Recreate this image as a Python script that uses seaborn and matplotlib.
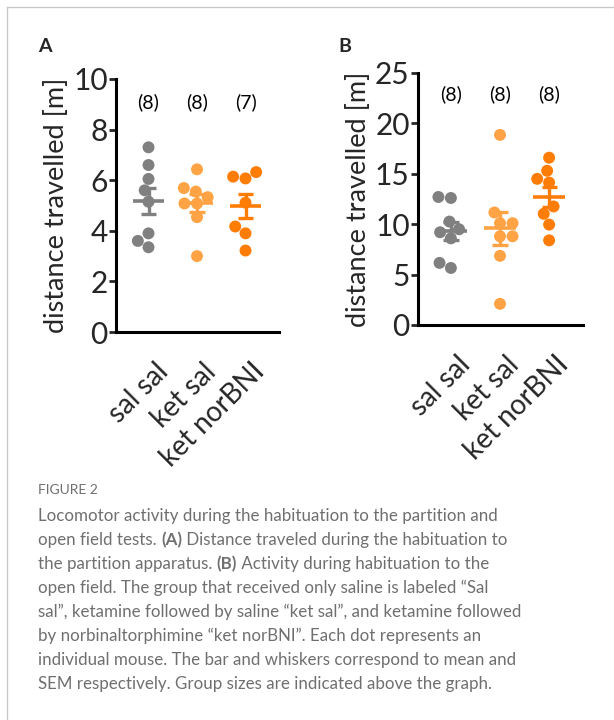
import numpy as np
import pandas as pd
import matplotlib
matplotlib.use("Agg")
import matplotlib.pyplot as plt
import matplotlib.transforms as mtransforms
import seaborn as sns
from matplotlib.lines import Line2D

# groups and colours
groups = ["sal sal", "ket sal", "ket norBNI"]
colors = ["#808080", "#FFA345", "#FF7D05"]

# panel A - habituation to the partition (m)
a_sal_sal = [7.3, 6.6, 6.05, 5.6, 5.15, 3.9, 3.35, 3.6]
a_ket_sal = [6.43, 5.69, 5.55, 5.33, 5.08, 5.08, 4.54, 3.0]
a_ket_nor = [6.14, 6.32, 6.07, 5.11, 4.17, 3.9, 3.22]

# panel B - open field (m)
b_sal_sal = [12.6, 12.7, 10.26, 9.5, 9.2, 8.6, 5.66, 6.16]
b_ket_sal = [18.86, 11.16, 10.1, 10.1, 8.8, 8.8, 6.86, 2.1]
b_ket_nor = [16.6, 15.3, 14.13, 14.5, 11.03, 11.76, 9.96, 8.4]


def make_df(*series):
    rows = []
    for g, vals in zip(groups, series):
        for v in vals:
            rows.append({"group": g, "dist": v})
    return pd.DataFrame(rows)


dfA = make_df(a_sal_sal, a_ket_sal, a_ket_nor)
dfB = make_df(b_sal_sal, b_ket_sal, b_ket_nor)

sns.set_theme(style="ticks")
plt.rcParams["font.family"] = ["Lato", "DejaVu Sans"]

W, H = 614, 720
fig = plt.figure(figsize=(W / 100, H / 100), dpi=100)

axA = fig.add_axes([116 / W, 1 - 332 / H, 163 / W, 253 / H])
axB = fig.add_axes([418 / W, 1 - 325 / H, 165 / W, 252 / H])


def draw_panel(ax, df, ymax, step, n_y):
    sns.swarmplot(data=df, x="group", y="dist", hue="group", palette=colors,
                  order=groups, hue_order=groups, size=8.6, legend=False, ax=ax)
    # mean +- SEM
    for i, g in enumerate(groups):
        v = df.loc[df["group"] == g, "dist"].values
        m = v.mean()
        se = v.std(ddof=1) / np.sqrt(len(v))
        ax.hlines(m, i - 0.32, i + 0.32, color=colors[i], lw=2.6, zorder=5)
        ax.vlines(i, m - se, m + se, color=colors[i], lw=2.4, zorder=5)
        ax.hlines([m - se, m + se], i - 0.155, i + 0.155, color=colors[i], lw=2.4, zorder=5)
        ax.text(i, n_y, f"({len(v)})", ha="center", va="center", fontsize=14, color="black")
    ax.set_xlim(-0.67, 2.69)
    ax.set_ylim(0, ymax)
    ax.set_yticks(np.arange(0, ymax + 0.1, step))
    ax.set_xlabel("")
    ax.set_ylabel("distance travelled [m]", fontsize=19.5, labelpad=3)
    ax.tick_params(axis="y", labelsize=21.5, width=2, length=5, pad=1)
    ax.tick_params(axis="x", labelsize=20, width=0, length=0, pad=19)
    ax.set_xticks(range(3))
    ax.set_xticklabels(groups, rotation=45, ha="right", rotation_mode="anchor")
    shift = mtransforms.ScaledTranslation(0.06, 0, fig.dpi_scale_trans)
    for lab in ax.get_xticklabels():
        lab.set_transform(lab.get_transform() + shift)
    for s in ["left", "bottom"]:
        ax.spines[s].set_linewidth(2.2)
        ax.spines[s].set_color("black")
    sns.despine(ax=ax)


draw_panel(axA, dfA, 10, 2, 9.1)
draw_panel(axB, dfB, 25, 5, 22.9)

fig.text(38 / W, 1 - 47 / H, "A", fontsize=14, fontweight="bold", ha="left", va="center")
fig.text(338 / W, 1 - 47 / H, "B", fontsize=14, fontweight="bold", ha="left", va="center")

# thin frame
fig.add_artist(Line2D([7 / W, 1], [1 - 7 / H, 1 - 7 / H], color="#c8c8c8", lw=1))
fig.add_artist(Line2D([7 / W, 7 / W], [0, 1 - 7 / H], color="#c8c8c8", lw=1))

# caption
cap_color = "#6f6f6f"
fig.text(38 / W, 1 - 490 / H, "FIGURE 2", fontsize=10, color=cap_color,
         ha="left", va="center")

lines = [
    [("Locomotor activity during the habituation to the partition and", False)],
    [("open field tests. ", False), ("(A)", True), (" Distance traveled during the habituation to", False)],
    [("the partition apparatus. ", False), ("(B)", True), (" Activity during habituation to the", False)],
    [("open field. The group that received only saline is labeled \u201cSal", False)],
    [("sal\u201d, ketamine followed by saline \u201cket sal\u201d, and ketamine followed", False)],
    [("by norbinaltorphimine \u201cket norBNI\u201d. Each dot represents an", False)],
    [("individual mouse. The bar and whiskers correspond to mean and", False)],
    [("SEM respectively. Group sizes are indicated above the graph.", False)],
]

renderer = fig.canvas.get_renderer()
y0 = 516
for k, runs in enumerate(lines):
    x = 38
    y = y0 + k * 24
    for txt, bold in runs:
        t = fig.text(x / W, 1 - y / H, txt, fontsize=12.2, color=cap_color,
                     fontweight="bold" if bold else "normal", ha="left", va="center")
        bb = t.get_window_extent(renderer=renderer)
        x += bb.width

fig.savefig("out.png", dpi=100)
